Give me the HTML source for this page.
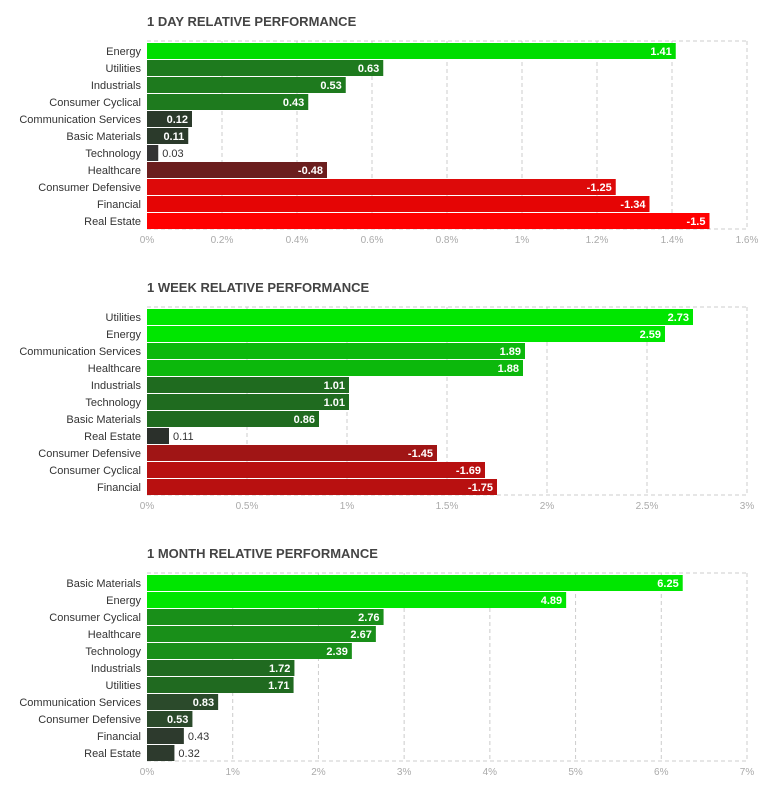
<!DOCTYPE html>
<html><head><meta charset="utf-8"><style>
body{margin:0;background:#fff;width:770px;height:791px;overflow:hidden;font-family:"Liberation Sans",sans-serif}
</style></head><body>
<svg id="svg" width="770" height="791" xmlns="http://www.w3.org/2000/svg"></svg>
<script>
const dayCats=["Energy","Utilities","Industrials","Consumer Cyclical","Communication Services","Basic Materials","Technology","Healthcare","Consumer Defensive","Financial","Real Estate"];
const dayVals=[1.41,0.63,0.53,0.43,0.12,0.11,0.03,-0.48,-1.25,-1.34,-1.5];
const dayColors=["#00dd00","#1e7a1e","#1e7a1e","#1e7a1e","#2b3a2b","#2b3a2b","#333333","#6b1e1e","#dd0a0a","#e50505","#ff0000"];
const dayTicks=["0%","0.2%","0.4%","0.6%","0.8%","1%","1.2%","1.4%","1.6%"];
const dayMax=1.6;
const weekCats=["Utilities","Energy","Communication Services","Healthcare","Industrials","Technology","Basic Materials","Real Estate","Consumer Defensive","Consumer Cyclical","Financial"];
const weekVals=[2.73,2.59,1.89,1.88,1.01,1.01,0.86,0.11,-1.45,-1.69,-1.75];
const weekColors=["#00e600","#00e600","#0cb80c","#0cb80c","#1f6b1f","#1f6b1f","#1f6b1f","#2b302b","#a01515","#b81010","#b81010"];
const weekTicks=["0%","0.5%","1%","1.5%","2%","2.5%","3%"];
const weekMax=3;
const monthCats=["Basic Materials","Energy","Consumer Cyclical","Healthcare","Technology","Industrials","Utilities","Communication Services","Consumer Defensive","Financial","Real Estate"];
const monthVals=[6.25,4.89,2.76,2.67,2.39,1.72,1.71,0.83,0.53,0.43,0.32];
const monthColors=["#00e600","#00e600","#198f19","#198f19","#198f19","#206a20","#206a20","#2b4a2b","#2b4a2b","#2d3a2d","#2d3a2d"];
const monthTicks=["0%","1%","2%","3%","4%","5%","6%","7%"];
const monthMax=7;

const NS="http://www.w3.org/2000/svg";
const svg=document.getElementById('svg');
function mk(tag,attrs,parent){const e=document.createElementNS(NS,tag);for(const k in attrs)e.setAttribute(k,attrs[k]);(parent||svg).appendChild(e);return e;}
function chart(title,cats,vals,colors,ticks,max,top,key){
  const g=mk('g',{});
  
  
  const x0=147,w=600,h=188;
  const xs=v=>x0+Math.abs(v)/max*w;
  const t=mk('text',{x:x0,y:top-15,'font-size':13,'font-weight':'bold',fill:'#444'},g);
  t.textContent=title;
  
  
  ticks.forEach((tk,i)=>{
    const x=x0+i*w/(ticks.length-1);
    if(i>0){const l=mk('line',{x1:x,y1:top,x2:x,y2:top+h,stroke:'#ccc','stroke-dasharray':'4,3'},g);
      
      }
    const tx=mk('text',{x:x,y:top+h+14,'font-size':10,fill:'#aaa','text-anchor':'middle'},g);
    tx.textContent=tk;
    
    
  });
  mk('line',{x1:x0,y1:top,x2:x0+w,y2:top,stroke:'#ccc','stroke-dasharray':'4,3'},g);
  mk('line',{x1:x0,y1:top+h,x2:x0+w,y2:top+h,stroke:'#ccc','stroke-dasharray':'4,3'},g);
  cats.forEach((c,i)=>{
    const y=top+2+i*17;
    const lb=mk('text',{x:x0-6,y:y+12,'font-size':11,fill:'#333','text-anchor':'end'},g);
    lb.textContent=c;
    
    
    const xe=xs(vals[i]);
    const r=mk('rect',{x:x0,y:y,width:xe-x0,height:16,fill:colors[i]},g);
    
    
    const inside=(xe-x0)>38;
    const vt=mk('text',{x:inside?xe-4:xe+4,y:y+12,'font-size':11,'font-weight':inside?'bold':'normal',fill:inside?'#fff':'#333','text-anchor':inside?'end':'start'},g);
    vt.textContent=String(vals[i]);
    
    
  });
}
chart("1 DAY RELATIVE PERFORMANCE",dayCats,dayVals,dayColors,dayTicks,dayMax,41,'day');
chart("1 WEEK RELATIVE PERFORMANCE",weekCats,weekVals,weekColors,weekTicks,weekMax,307,'week');
chart("1 MONTH RELATIVE PERFORMANCE",monthCats,monthVals,monthColors,monthTicks,monthMax,573,'month');
</script>
</body></html>
